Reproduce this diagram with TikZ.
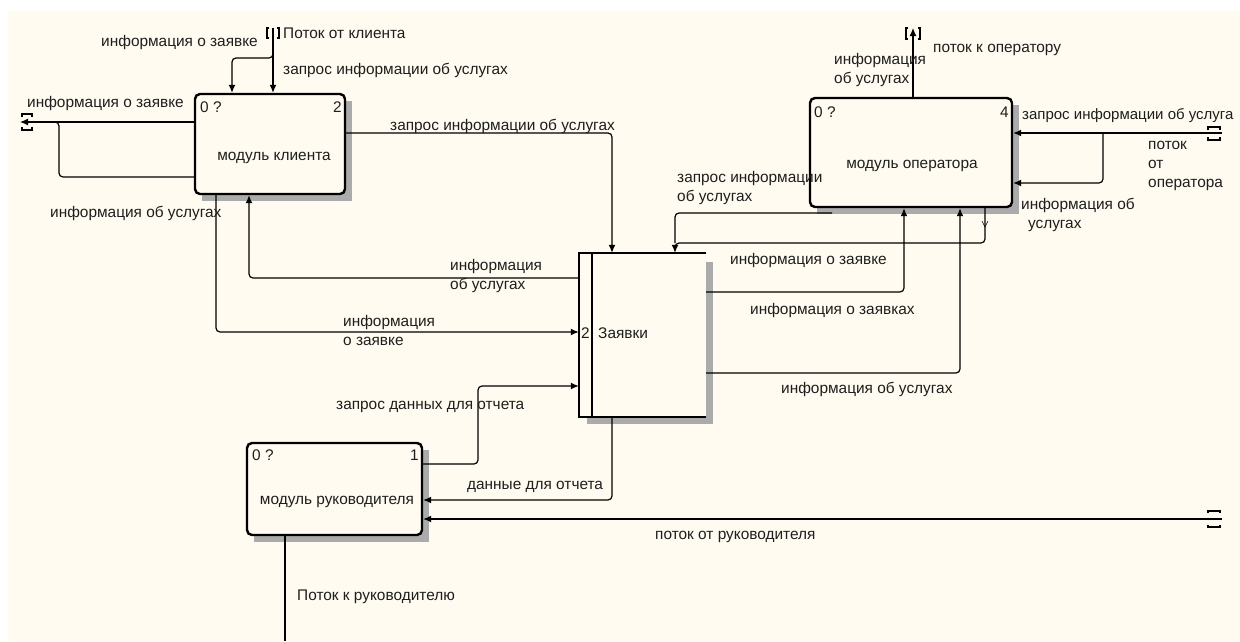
\documentclass[tikz,border=0pt]{standalone}
\usepackage{fontspec}
\setmainfont{Liberation Sans}
\usetikzlibrary{arrows.meta}
\definecolor{bgcream}{HTML}{FFFBF0}
\definecolor{txt}{HTML}{1E1E1E}
\begin{document}
\begin{tikzpicture}[x=1pt,y=-1pt,
  every node/.style={font=\fontsize{15.4}{19}\selectfont, text=txt, inner sep=0pt},
  box/.style={draw, line width=2.4pt, rounded corners=5pt, fill=bgcream},
  shade/.style={fill=black!33},
  flow/.style={line width=1.2pt, rounded corners=4pt},
  arr/.style={flow, -{Latex[length=8pt,width=7pt]}},
  lbl/.style={anchor=west, align=left},
  tun/.style={line width=1.1pt}]

\fill[white] (0,0) rectangle (1240,641);
\clip (0,0) rectangle (1240,641);
\fill[bgcream] (8,11) rectangle (1240,641);

% shadows
\fill[shade] (202,101) rectangle (352,201);
\fill[shade] (817,105) rectangle (1019,214);
\fill[shade] (254,450) rectangle (429,542);
\fill[shade] (587,262) rectangle (713,424);

% boxes
\node[box, minimum width=150pt, minimum height=100pt] (client) at (270,144) {};
\node[box, minimum width=202pt, minimum height=109pt] (oper) at (911,152.5) {};
\node[box, minimum width=175pt, minimum height=92pt] (mgr) at (334.5,489) {};
\node[fill=bgcream, minimum width=127pt, minimum height=164pt] (store) at (642.5,335) {};
\draw[line width=2.4pt] (store.north east) -- (store.north west) -- (store.south west) -- (store.south east);
\draw[line width=2.4pt] (592,0 |- store.north) -- (592,0 |- store.south);

% box texts
\node[anchor=west] (c0) at (200,107) {0 ?};
\node[anchor=east] (c2) at (342,107) {2};
\node (ct) at (274,158) {модуль клиента};
\node[anchor=west] (o0) at (814,112) {0 ?};
\node[anchor=east] (o4) at (1009,112) {4};
\node (ot) at (912,166) {модуль оператора};
\node[anchor=west] (m0) at (252,455) {0 ?};
\node[anchor=east] (m1) at (419,455) {1};
\node (mt) at (337,502) {модуль руководителя};
\node (s2) at (585.5,333) {2};
\node[anchor=west] (st) at (598,333) {Заявки};

% tunnel coordinates
\coordinate (tunC) at (273,28);
\coordinate (tunL) at (20,122);
\coordinate (tunO) at (913,28);
\coordinate (tunR) at (1222,133);
\coordinate (tunM) at (1222,519);
\coordinate (outM) at (285,641);
\coordinate (opBL) at (832,213);

% 1 flow from client tunnel
\draw[arr] (tunC) -- (tunC |- client.north);
\draw[arr] (273,46) -- (273,58) -- (232,58) -- (232,0 |- client.north);
\draw[tun] (269,28) -- (267,28) -- (267,38) -- (269,38);
\draw[tun] (277,28) -- (279,28) -- (279,38) -- (277,38);

% 2 client left outputs
\draw[arr] (client.west |- tunL) -- (tunL);
\draw[flow] (client.west |- 0,177) -- (59,177) -- (59,122) -- (45,122);
\draw[tun] (22,117) -- (22,114) -- (32,114) -- (32,117);
\draw[tun] (22,127) -- (22,130) -- (32,130) -- (32,127);

% 3 client -> store
\draw[arr] (client.east |- 0,133) -- (612,133) -- (612,0 |- store.north);
% 4 client -> store
\draw[arr] (216,0 |- client.south) -- (216,332) -- (store.west |- 0,332);
% 5 store -> client
\draw[arr] (store.west |- 0,278) -- (249,278) -- (249,0 |- client.south);
% 6 manager -> store
\draw[arr] (mgr.east |- 0,464) -- (478,464) -- (478,386) -- (store.west |- 0,386);
% 7 store -> manager
\draw[arr] (612,0 |- store.south) -- (612,500) -- (mgr.east |- 0,500);
% 8 tunnel -> manager
\draw[arr] (tunM) -- (mgr.east |- tunM);
\draw[tun] (1208,513) -- (1208,511) -- (1220,511) -- (1220,513);
\draw[tun] (1208,525) -- (1208,527) -- (1220,527) -- (1220,525);
% 9 manager -> out
\draw[flow] (285,0 |- mgr.south) -- (outM);
% 10,11 store -> operator
\draw[arr] (store.east |- 0,292) -- (904,292) -- (904,0 |- oper.south);
\draw[arr] (store.east |- 0,373) -- (960,373) -- (960,0 |- oper.south);
% 12,13 operator -> store
\draw[arr] (985,0 |- oper.south) -- (985,243) -- (675,243) -- (675,0 |- store.north);
\draw[flow] (opBL) -- (675,213) -- (675,243);
\draw[line width=0.6pt] (982,221) -- (985,227) -- (988,221);
% 14 operator -> tunnel
\draw[arr] (913,0 |- oper.north) -- (tunO);
\draw[tun] (908,28) -- (906,28) -- (906,39) -- (908,39);
\draw[tun] (918,28) -- (920,28) -- (920,39) -- (918,39);
% 15 tunnel -> operator
\draw[arr] (tunR) -- (oper.east |- tunR);
\draw[arr] (1103,133) -- (1103,183) -- (oper.east |- 0,183);
\draw[tun] (1208,130) -- (1208,127) -- (1220,127) -- (1220,130);
\draw[tun] (1208,137) -- (1208,140) -- (1220,140) -- (1220,137);

% labels
\node[anchor=east] (l1) at (258,43) {информация о заявке};
\node[lbl] (l2) at (283,33) {Поток от клиента};
\node[lbl] (l3) at (283,70) {запрос информации об услугах};
\node[lbl] (l4) at (27,104) {информация о заявке};
\node[lbl] (l5) at (50,213) {информация об услугах};
\node[lbl] (l6) at (390,126) {запрос информации об услугах};
\node[lbl, anchor=north west] (l7) at (450,259) {информация\\об услугах};
\node[lbl, anchor=north west] (l8) at (343,315) {информация\\о заявке};
\node[lbl] (l9) at (336,407) {запрос данных для отчета};
\node[lbl] (l10) at (467,487) {данные для отчета};
\node[lbl] (l11) at (655,537) {поток от руководителя};
\node[lbl] (l12) at (297,597) {Поток к руководителю};
\node[lbl] (l13) at (730,261) {информация о заявке};
\node[lbl] (l14) at (750,311) {информация о заявках};
\node[lbl] (l15) at (781,389) {информация об услугах};
\node[lbl, anchor=north west] (l16) at (677,171) {запрос информации\\об услугах};
\node[lbl, anchor=north west] (l17) at (834,53) {информация\\об услугах};
\node[lbl] (l18) at (933,50) {поток к оператору};
\node[lbl, font=\fontsize{15}{19}\selectfont] (l19) at (1022,116) {запрос информации об услуга};
\node[lbl, anchor=north west] (l20) at (1148,141) {поток\\от\\оператора};
\node[lbl, anchor=north west] (l21) at (1021,198) {информация об\\\ \,услугах};
\end{tikzpicture}
\end{document}
